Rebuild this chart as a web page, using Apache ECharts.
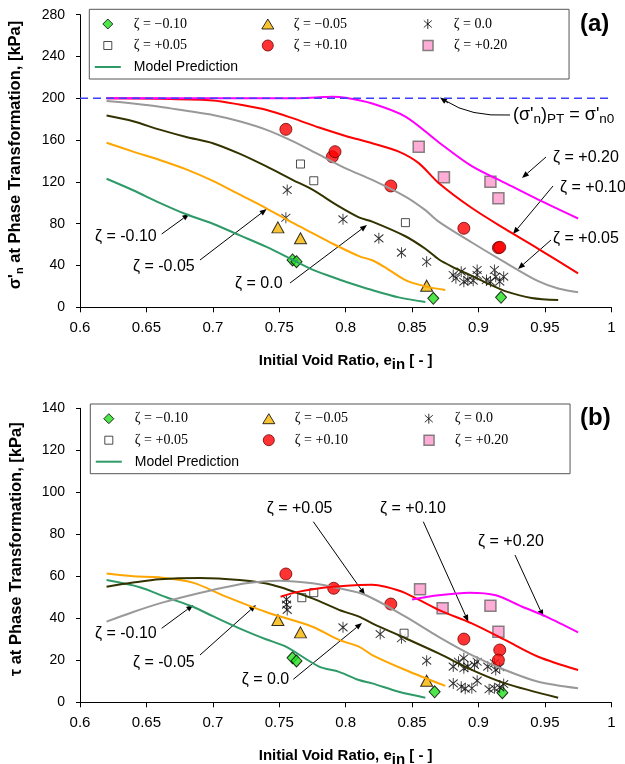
<!DOCTYPE html>
<html>
<head>
<meta charset="utf-8">
<title>Phase transformation vs initial void ratio</title>
<script src="https://cdn.jsdelivr.net/npm/echarts@6/dist/echarts.min.js"></script>
<style>
  html, body { margin: 0; padding: 0; background: #fff; }
  #chart { width: 625px; height: 764px; }
</style>
</head>
<body>
<div id="chart"></div>
<script>
// ---- values ----
var zetaNames = ['ζ = −0.10', 'ζ = −0.05', 'ζ = 0.0', 'ζ = +0.05', 'ζ = +0.10', 'ζ = +0.20'];
var modelName = 'Model Prediction';

var xMin = 0.6, xMax = 1.0, xStep = 0.05;
var yMaxA = 280, yStepA = 40;
var yMaxB = 140, yStepB = 20;

// (a) sigma'n at phase transformation, test points
var ptsA_m010 = [[0.760, 45.3], [0.763, 43.6], [0.866, 8.6], [0.917, 9.6]];
var ptsA_m005 = [[0.749, 76.5], [0.766, 66], [0.861, 20.7]];
var ptsA_0 = [[0.756, 112.2], [0.755, 85.7], [0.798, 84.2], [0.825, 66], [0.842, 52.3], [0.861, 43.6],
  [0.881, 30.9], [0.883, 27.8], [0.887, 34.1], [0.889, 24.5], [0.892, 26.1], [0.896, 25.5], [0.899, 35.7],
  [0.899, 30.9], [0.906, 26.1], [0.909, 24.5], [0.912, 35.7], [0.913, 29.3], [0.916, 24.5], [0.919, 29.3]];
var ptsA_p005 = [[0.766, 137.1], [0.776, 121.1], [0.845, 81]];
var ptsA_p010 = [[0.755, 170.3], [0.790, 144.1], [0.792, 148.9], [0.834, 116.1], [0.889, 75.6], [0.915, 57], [0.916, 57.4]];
var ptsA_p020 = [[0.855, 153.7], [0.874, 124.4], [0.909, 120.2], [0.915, 104.3]];

// (a) model curves
var fitA_m010 = [[0.62, 123], [0.64, 112], [0.66, 100], [0.68, 89], [0.70, 80], [0.72, 69], [0.74, 58], [0.76, 45.5],
  [0.775, 36], [0.79, 29], [0.80, 24.5], [0.82, 16.5], [0.84, 9.5], [0.86, 5]];
var fitA_m005 = [[0.62, 157.5], [0.64, 149], [0.66, 141], [0.68, 132], [0.70, 121], [0.72, 108], [0.74, 95], [0.76, 81],
  [0.775, 71], [0.79, 61], [0.81, 49], [0.82, 45], [0.83, 38], [0.845, 26], [0.86, 20], [0.875, 16.5]];
var fitA_0 = [[0.62, 183.5], [0.64, 178], [0.66, 170], [0.68, 163], [0.70, 157], [0.72, 147], [0.74, 135], [0.76, 122],
  [0.775, 112.5], [0.795, 96.5], [0.81, 86], [0.82, 82], [0.845, 68], [0.86, 56], [0.87, 46], [0.88, 39], [0.895, 30],
  [0.91, 21], [0.92, 15.5], [0.94, 9], [0.96, 7]];
var fitA_p005 = [[0.62, 197.5], [0.64, 195], [0.66, 192], [0.68, 188], [0.70, 184], [0.72, 178], [0.74, 170], [0.76, 159],
  [0.78, 146], [0.80, 133], [0.82, 122], [0.845, 106], [0.86, 93], [0.87, 82], [0.895, 62], [0.92, 43],
  [0.945, 25], [0.96, 18], [0.975, 14.5]];
var fitA_p010 = [[0.62, 200], [0.66, 199.5], [0.70, 198], [0.72, 194], [0.74, 189], [0.76, 181], [0.78, 172], [0.80, 164],
  [0.82, 157], [0.84, 149], [0.855, 138], [0.87, 119], [0.895, 95], [0.92, 75], [0.945, 56], [0.975, 32.5]];
var fitA_p020 = [[0.62, 200], [0.70, 200], [0.76, 200], [0.78, 201], [0.79, 201.5], [0.80, 200.5], [0.82, 195],
  [0.845, 182.5], [0.87, 158], [0.895, 135], [0.92, 119], [0.945, 103], [0.975, 85]];
var refA = [[0.6, 200], [1.0, 200]];

// (b) tau at phase transformation, test points
var ptsB_m010 = [[0.760, 21.2], [0.763, 19.7], [0.867, 5], [0.918, 4.6]];
var ptsB_m005 = [[0.749, 39.2], [0.766, 33.3], [0.861, 10.3]];
var ptsB_0 = [[0.7555, 49], [0.7555, 46.5], [0.756, 44], [0.798, 35.7], [0.826, 32.5], [0.842, 30.5], [0.861, 19.8],
  [0.881, 17], [0.885, 19.3], [0.889, 21], [0.889, 16.2], [0.892, 17], [0.897, 17.8], [0.899, 19.3], [0.907, 17],
  [0.912, 18.6], [0.913, 15.4], [0.916, 16.7],
  [0.881, 9], [0.887, 7.4], [0.890, 6.5], [0.895, 6.7], [0.899, 10.3], [0.908, 6.2], [0.912, 6.7], [0.916, 7.1], [0.919, 8.7]];
var ptsB_p005 = [[0.767, 49.8], [0.776, 52.2], [0.844, 32.9]];
var ptsB_p010 = [[0.755, 61.1], [0.791, 54.3], [0.834, 46.8], [0.889, 30.1], [0.916, 24.9], [0.915, 20.1]];
var ptsB_p020 = [[0.856, 53.8], [0.873, 44.8], [0.909, 46], [0.915, 33.6]];

// (b) model curves
var fitB_m010 = [[0.62, 58.2], [0.645, 54.8], [0.665, 50], [0.685, 45.5], [0.70, 41], [0.72, 35.2], [0.74, 30],
  [0.755, 26.5], [0.78, 17], [0.795, 14.5], [0.81, 10.6], [0.82, 9], [0.84, 5], [0.86, 2.2]];
var fitB_m005 = [[0.62, 61.3], [0.64, 60], [0.66, 59.5], [0.685, 57], [0.71, 50.3], [0.74, 43], [0.775, 36],
  [0.795, 29.7], [0.81, 26.5], [0.82, 22.5], [0.845, 15.4], [0.875, 7.8]];
var fitB_0 = [[0.62, 55], [0.64, 57], [0.66, 58.6], [0.69, 59.2], [0.72, 58.2], [0.745, 55.9], [0.775, 49.5],
  [0.795, 44], [0.81, 40.8], [0.82, 37.6], [0.845, 30.5], [0.87, 23.3], [0.895, 15.4], [0.92, 9], [0.96, 2.2]];
var fitB_p005 = [[0.62, 38.4], [0.64, 43], [0.66, 47.1], [0.68, 50.5], [0.70, 53.5], [0.725, 56.7], [0.75, 57.9],
  [0.775, 56.7], [0.795, 54.3], [0.815, 51.1], [0.845, 40.8], [0.87, 31.2], [0.895, 22.5], [0.92, 15.4],
  [0.945, 9.8], [0.975, 6.7]];
var fitB_p010 = [[0.751, 50.3], [0.765, 52.7], [0.79, 55], [0.81, 55.9], [0.82, 56], [0.83, 55], [0.845, 52],
  [0.87, 44], [0.895, 37.6], [0.92, 29.7], [0.945, 21.7], [0.975, 15.4]];
var fitB_p020 = [[0.85, 49], [0.87, 51], [0.893, 52.2], [0.913, 51], [0.933, 45.5], [0.951, 40.8], [0.975, 33.3]];

// ---- styles ----
var FONT = '"Liberation Sans", Arial, sans-serif';
var SERIF = '"Liberation Serif", "Times New Roman", serif';
var STAR = 'path://M4,0L4,10M0,1.5L8,8.5M0,8.5L8,1.5';
var lineColors = ['#2e9a68', '#ffa500', '#333300', '#999999', '#ff0000', '#ff00ff'];
var markStyles = [
  { symbol: 'diamond', symbolSize: [11, 12], itemStyle: { color: '#22e01e', borderColor: '#000', borderWidth: 1 } },
  { symbol: 'triangle', symbolSize: [12, 11], itemStyle: { color: '#f7b500', borderColor: '#000', borderWidth: 1 } },
  { symbol: STAR, symbolSize: [9, 11], itemStyle: { color: 'rgba(0,0,0,0)', borderColor: '#000', borderWidth: 1 } },
  { symbol: 'rect', symbolSize: 8, itemStyle: { color: '#fff', borderColor: '#222', borderWidth: 1 } },
  { symbol: 'circle', symbolSize: 12, itemStyle: { color: '#ff0000', borderColor: '#700000', borderWidth: 1 } },
  { symbol: 'rect', symbolSize: 11, itemStyle: { color: '#ff99cc', borderColor: '#666', borderWidth: 1.5 } }
];
// legend icons drawn inside a fixed 26x11 box (the leading moves pin the box size)
var BOX = 'path://M0,0M26,11';
var legendIcons = [
  BOX + 'M13,0.5L18,5.5L13,10.5L8,5.5Z',
  BOX + 'M13,0.5L19,10.5L7,10.5Z',
  BOX + 'M13,0.5L13,10.5M9,2L17,9M9,9L17,2',
  BOX + 'M9,1.5L17,1.5L17,9.5L9,9.5Z',
  BOX + 'M7.5,5.5A5.5,5.5 0 1,0 18.5,5.5A5.5,5.5 0 1,0 7.5,5.5Z',
  BOX + 'M8,0.5L18,0.5L18,10.5L8,10.5Z'
];

var ptsA = [ptsA_m010, ptsA_m005, ptsA_0, ptsA_p005, ptsA_p010, ptsA_p020];
var fitA = [fitA_m010, fitA_m005, fitA_0, fitA_p005, fitA_p010, fitA_p020];
var ptsB = [ptsB_m010, ptsB_m005, ptsB_0, ptsB_p005, ptsB_p010, ptsB_p020];
var fitB = [fitB_m010, fitB_m005, fitB_0, fitB_p005, fitB_p010, fitB_p020];

function buildSeries(fits, pts, idx, ref) {
  var out = [];
  fits.forEach(function (d, i) {
    out.push({
      name: i === 0 ? modelName : 'fit ' + zetaNames[i],
      type: 'line', xAxisIndex: idx, yAxisIndex: idx, data: d,
      symbol: 'none', smooth: 0.3, silent: true,
      lineStyle: { color: lineColors[i], width: 2 }, itemStyle: { color: lineColors[i] }
    });
  });
  if (ref) {
    out.push({
      name: 'ref', type: 'line', xAxisIndex: idx, yAxisIndex: idx, data: ref, symbol: 'none', silent: true,
      lineStyle: { color: '#3f3fff', width: 1.5, type: [8, 5] }
    });
  }
  pts.forEach(function (d, i) {
    out.push({
      name: zetaNames[i], type: 'scatter', xAxisIndex: idx, yAxisIndex: idx, data: d,
      symbol: markStyles[i].symbol, symbolSize: markStyles[i].symbolSize, itemStyle: markStyles[i].itemStyle
    });
  });
  return out;
}

function xAxisOf(idx) {
  return {
    type: 'value', gridIndex: idx, min: xMin, max: xMax, interval: xStep,
    axisLine: { show: true, onZero: false, lineStyle: { color: '#000', width: 1 } },
    axisTick: { show: true, inside: false, length: 5, lineStyle: { color: '#000' } },
    splitLine: { show: false },
    axisLabel: { color: '#000', fontSize: 15, fontFamily: FONT, margin: 13 },
    name: 'Initial Void Ratio, e{s|in} [ - ]', nameLocation: 'middle', nameGap: 42,
    nameTextStyle: {
      color: '#000', fontSize: 15, fontWeight: 'bold', fontFamily: FONT,
      rich: { s: { fontSize: 15, fontWeight: 'bold', fontFamily: FONT, padding: [8, 0, 0, 0] } }
    }
  };
}

function yAxisOf(idx, max, step, title) {
  return {
    type: 'value', gridIndex: idx, min: 0, max: max, interval: step,
    axisLine: { show: true, onZero: false, lineStyle: { color: '#000', width: 1 } },
    axisTick: { show: true, inside: false, length: 4, lineStyle: { color: '#000' } },
    splitLine: { show: false },
    axisLabel: { color: '#000', fontSize: 14, fontFamily: FONT, margin: 15 },
    name: title, nameLocation: 'middle', nameGap: 55,
    nameTextStyle: {
      color: '#000', fontSize: 16.5, fontWeight: 'bold', fontFamily: FONT, padding: [0, 0, 0, 12],
      rich: { s: { fontSize: 11, fontWeight: 'bold', fontFamily: FONT, padding: [8, 0, 0, 0] } }
    }
  };
}

var legendData = zetaNames.map(function (n, i) {
  return { name: n, icon: legendIcons[i], itemStyle: markStyles[i].itemStyle };
});
legendData.push({ name: modelName, icon: BOX + 'M0,4.5L26,4.5L26,6.5L0,6.5Z', itemStyle: { color: lineColors[0], borderWidth: 0 } });

function legendAt(top, left) {
  return {
    top: top, left: left, width: 480, orient: 'horizontal',
    padding: [7.7, 2, 5, 5], itemGap: 7.5, itemWidth: 26, itemHeight: 11,
    borderColor: '#555', borderWidth: 1, backgroundColor: '#fff',
    selectedMode: false, data: legendData,
    formatter: function (n) { return n === modelName ? '{mp|' + n + '}' : n; },
    textStyle: {
      color: '#000', fontFamily: SERIF, fontSize: 14, lineHeight: 14, width: 113, padding: [0, 0, 0, 8],
      rich: { mp: { fontFamily: FONT, fontSize: 14, color: '#000' } }
    }
  };
}

function label(x, y, text) {
  return { type: 'text', x: x, y: y, silent: true,
    style: { text: text, fontSize: 16, fontFamily: FONT, fill: '#000', verticalAlign: 'middle' } };
}

function arrow(x1, y1, x2, y2) {
  var a = Math.atan2(y2 - y1, x2 - x1), L = 7, W = 2.8;
  var bx = x2 - L * Math.cos(a), by = y2 - L * Math.sin(a);
  return [
    { type: 'line', silent: true, shape: { x1: x1, y1: y1, x2: bx, y2: by }, style: { stroke: '#000', lineWidth: 1 } },
    { type: 'polygon', silent: true,
      shape: { points: [[x2, y2], [bx + W * Math.sin(a), by - W * Math.cos(a)], [bx - W * Math.sin(a), by + W * Math.cos(a)]] },
      style: { fill: '#000' } }
  ];
}

var notes = [
  { type: 'text', x: 580, y: 24, style: { text: '(a)', fontSize: 24, fontWeight: 'bold', fontFamily: FONT, fill: '#000', verticalAlign: 'middle' } },
  { type: 'text', x: 580, y: 418, style: { text: '(b)', fontSize: 24, fontWeight: 'bold', fontFamily: FONT, fill: '#000', verticalAlign: 'middle' } },
  // panel (a)
  label(95, 237, 'ζ = -0.10'), label(133, 267, 'ζ = -0.05'), label(235, 283.5, 'ζ = 0.0'),
  label(553, 238.5, 'ζ = +0.05'), label(560, 188, 'ζ = +0.10'), label(553, 158, 'ζ = +0.20'),
  { type: 'text', x: 513, y: 115, silent: true,
    style: { text: "(σ'{s|n}){s|PT} = σ'{s|n0}", fontSize: 18, fontFamily: FONT, fill: '#000', verticalAlign: 'middle',
      rich: { s: { fontSize: 13.5, fontFamily: FONT, padding: [9, 0, 0, 0] } } } },
  { type: 'bezierCurve', silent: true, shape: { x1: 510, y1: 115, cpx1: 470, cpy1: 117, x2: 446, y2: 101 },
    style: { stroke: '#000', lineWidth: 1, fill: null } },
  // panel (b)
  label(266.7, 508.3, 'ζ = +0.05'), label(380, 508.3, 'ζ = +0.10'), label(478, 541.7, 'ζ = +0.20'),
  label(95, 633.3, 'ζ = -0.10'), label(133, 662.7, 'ζ = -0.05'), label(241.7, 680, 'ζ = 0.0')
];
notes = notes
  .concat(arrow(161.7, 234, 189.3, 214), arrow(200, 260, 266.7, 209), arrow(290, 283, 367, 225),
    arrow(551, 240, 518, 269), arrow(553, 186, 513, 234), arrow(546, 157, 522, 178), arrow(448, 103, 440, 97.5))
  .concat(arrow(313.3, 521.7, 365, 595), arrow(423.3, 521.7, 468.3, 621.7), arrow(515, 555, 543.3, 616.7),
    arrow(161.7, 628.3, 193.3, 605), arrow(200, 655, 256, 605), arrow(293.3, 679.3, 362, 623));

var chart = echarts.init(document.getElementById('chart'), null, { renderer: 'canvas' });
chart.setOption({
  animation: false,
  backgroundColor: '#fff',
  grid: [
    { left: 80, right: 13.7, top: 14.7, height: 292.6, outerBoundsMode: 'none', containLabel: false },
    { left: 80, right: 13.7, top: 408.3, height: 294, outerBoundsMode: 'none', containLabel: false }
  ],
  xAxis: [xAxisOf(0), xAxisOf(1)],
  yAxis: [
    yAxisOf(0, yMaxA, yStepA, "σ'{s|n} at Phase Transformation, [kPa]"),
    yAxisOf(1, yMaxB, yStepB, 'τ at Phase Transformation, [kPa]')
  ],
  legend: [legendAt(9.3, 89.3), legendAt(404, 90.3)],
  series: buildSeries(fitA, ptsA, 0, refA).concat(buildSeries(fitB, ptsB, 1, null)),
  graphic: notes
});
</script>
</body>
</html>
